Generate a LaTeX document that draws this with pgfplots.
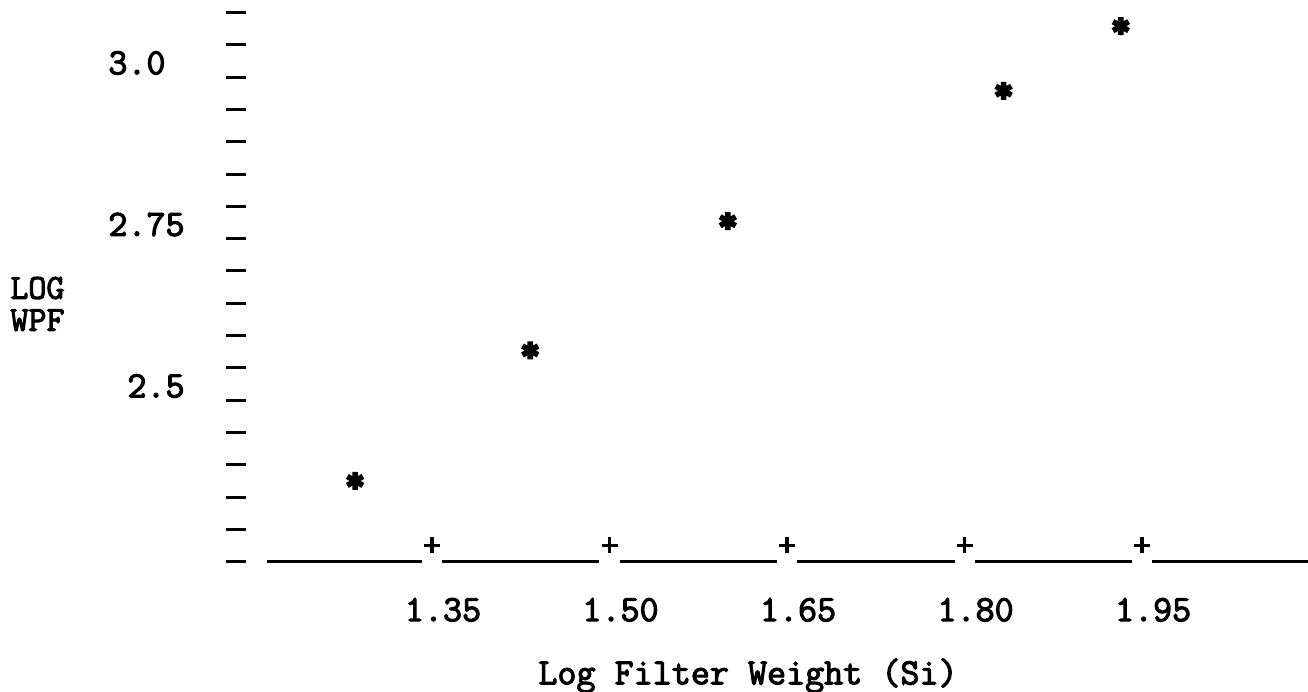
\documentclass[border=0pt]{standalone}
\usepackage{fontspec}
\newfontfamily\tw{Latin Modern Mono}[FakeBold=3]
\usepackage{pgfplots}
\pgfplotsset{compat=1.18}
\begin{document}
\begin{tikzpicture}
\begin{axis}[
  name=a, at={(0,0)}, anchor=south west,
  scale only axis, width=531pt, height=280.85pt,
  xmin=1.1928, xmax=2.0902, ymin=2.228, ymax=3.0975,
  axis lines=left, axis line style={draw=none,-},
  clip=false,
  font=\fontsize{18.5}{20}\tw\selectfont,
  /pgf/number format/assume math mode=true,
  xtick={1.35,1.50,1.65,1.80,1.95},
  xticklabels={1.35,1.50,1.65,1.80,1.95},
  x tick style={draw=none},
  xticklabel style={anchor=north, inner sep=0pt, xshift=5.5pt, yshift=-8pt},
  ytick={2.228,2.278,2.328,2.378,2.428,2.478,2.528,2.578,2.628,2.678,2.728,2.778,2.828,2.878,2.928,2.978,3.028,3.078},
  yticklabels={},
  y tick style={line width=1.5pt, black},
  major tick length=10pt, tick align=outside,
  extra y ticks={2.5,2.75,3.0},
  extra y tick labels={2.5,2.75,3.0\phantom{0}},
  extra y tick style={major tick length=0pt, tick style={draw=none},
    yticklabel style={anchor=east, inner sep=0pt, xshift=-30.5pt}},
  ylabel={LOG\\WPF},
  ylabel style={rotate=-90, align=left, anchor=west, inner sep=0pt,
    at={(rel axis cs:0,0.4588)}, xshift=-118pt,
    font=\fontsize{17.5}{16}\tw\selectfont},
  xlabel={Log Filter Weight (Si)},
  xlabel style={anchor=center, inner sep=0pt, at={(rel axis cs:0.4727,0)}, yshift=-57pt},
  unbounded coords=jump,
]
% baseline made of underscore runs
\addplot[black, line width=1.5pt] coordinates {
 (1.2106,2.228) (1.3415,2.228) (nan,nan)
 (1.3585,2.228) (1.4915,2.228) (nan,nan)
 (1.5085,2.228) (1.6415,2.228) (nan,nan)
 (1.6585,2.228) (1.7915,2.228) (nan,nan)
 (1.8085,2.228) (1.9415,2.228) (nan,nan)
 (1.9585,2.228) (2.0902,2.228)};
% plus signs at the ticks
\addplot[only marks, mark=+, mark size=4pt, black, line width=1.6pt] coordinates {
 (1.35,2.2535) (1.50,2.2535) (1.65,2.2535) (1.80,2.2535) (1.95,2.2535)};
% data points
\addplot[only marks, mark=asterisk, mark size=4.5pt, black, line width=2.8pt] coordinates {
 (1.285,2.353) (1.433,2.555) (1.600,2.755) (1.833,2.957) (1.932,3.057)};
\end{axis}
\pgfresetboundingbox
\path (a.south west) ++(-123pt,-65.15pt) rectangle (a.north east);
\end{tikzpicture}
\end{document}
